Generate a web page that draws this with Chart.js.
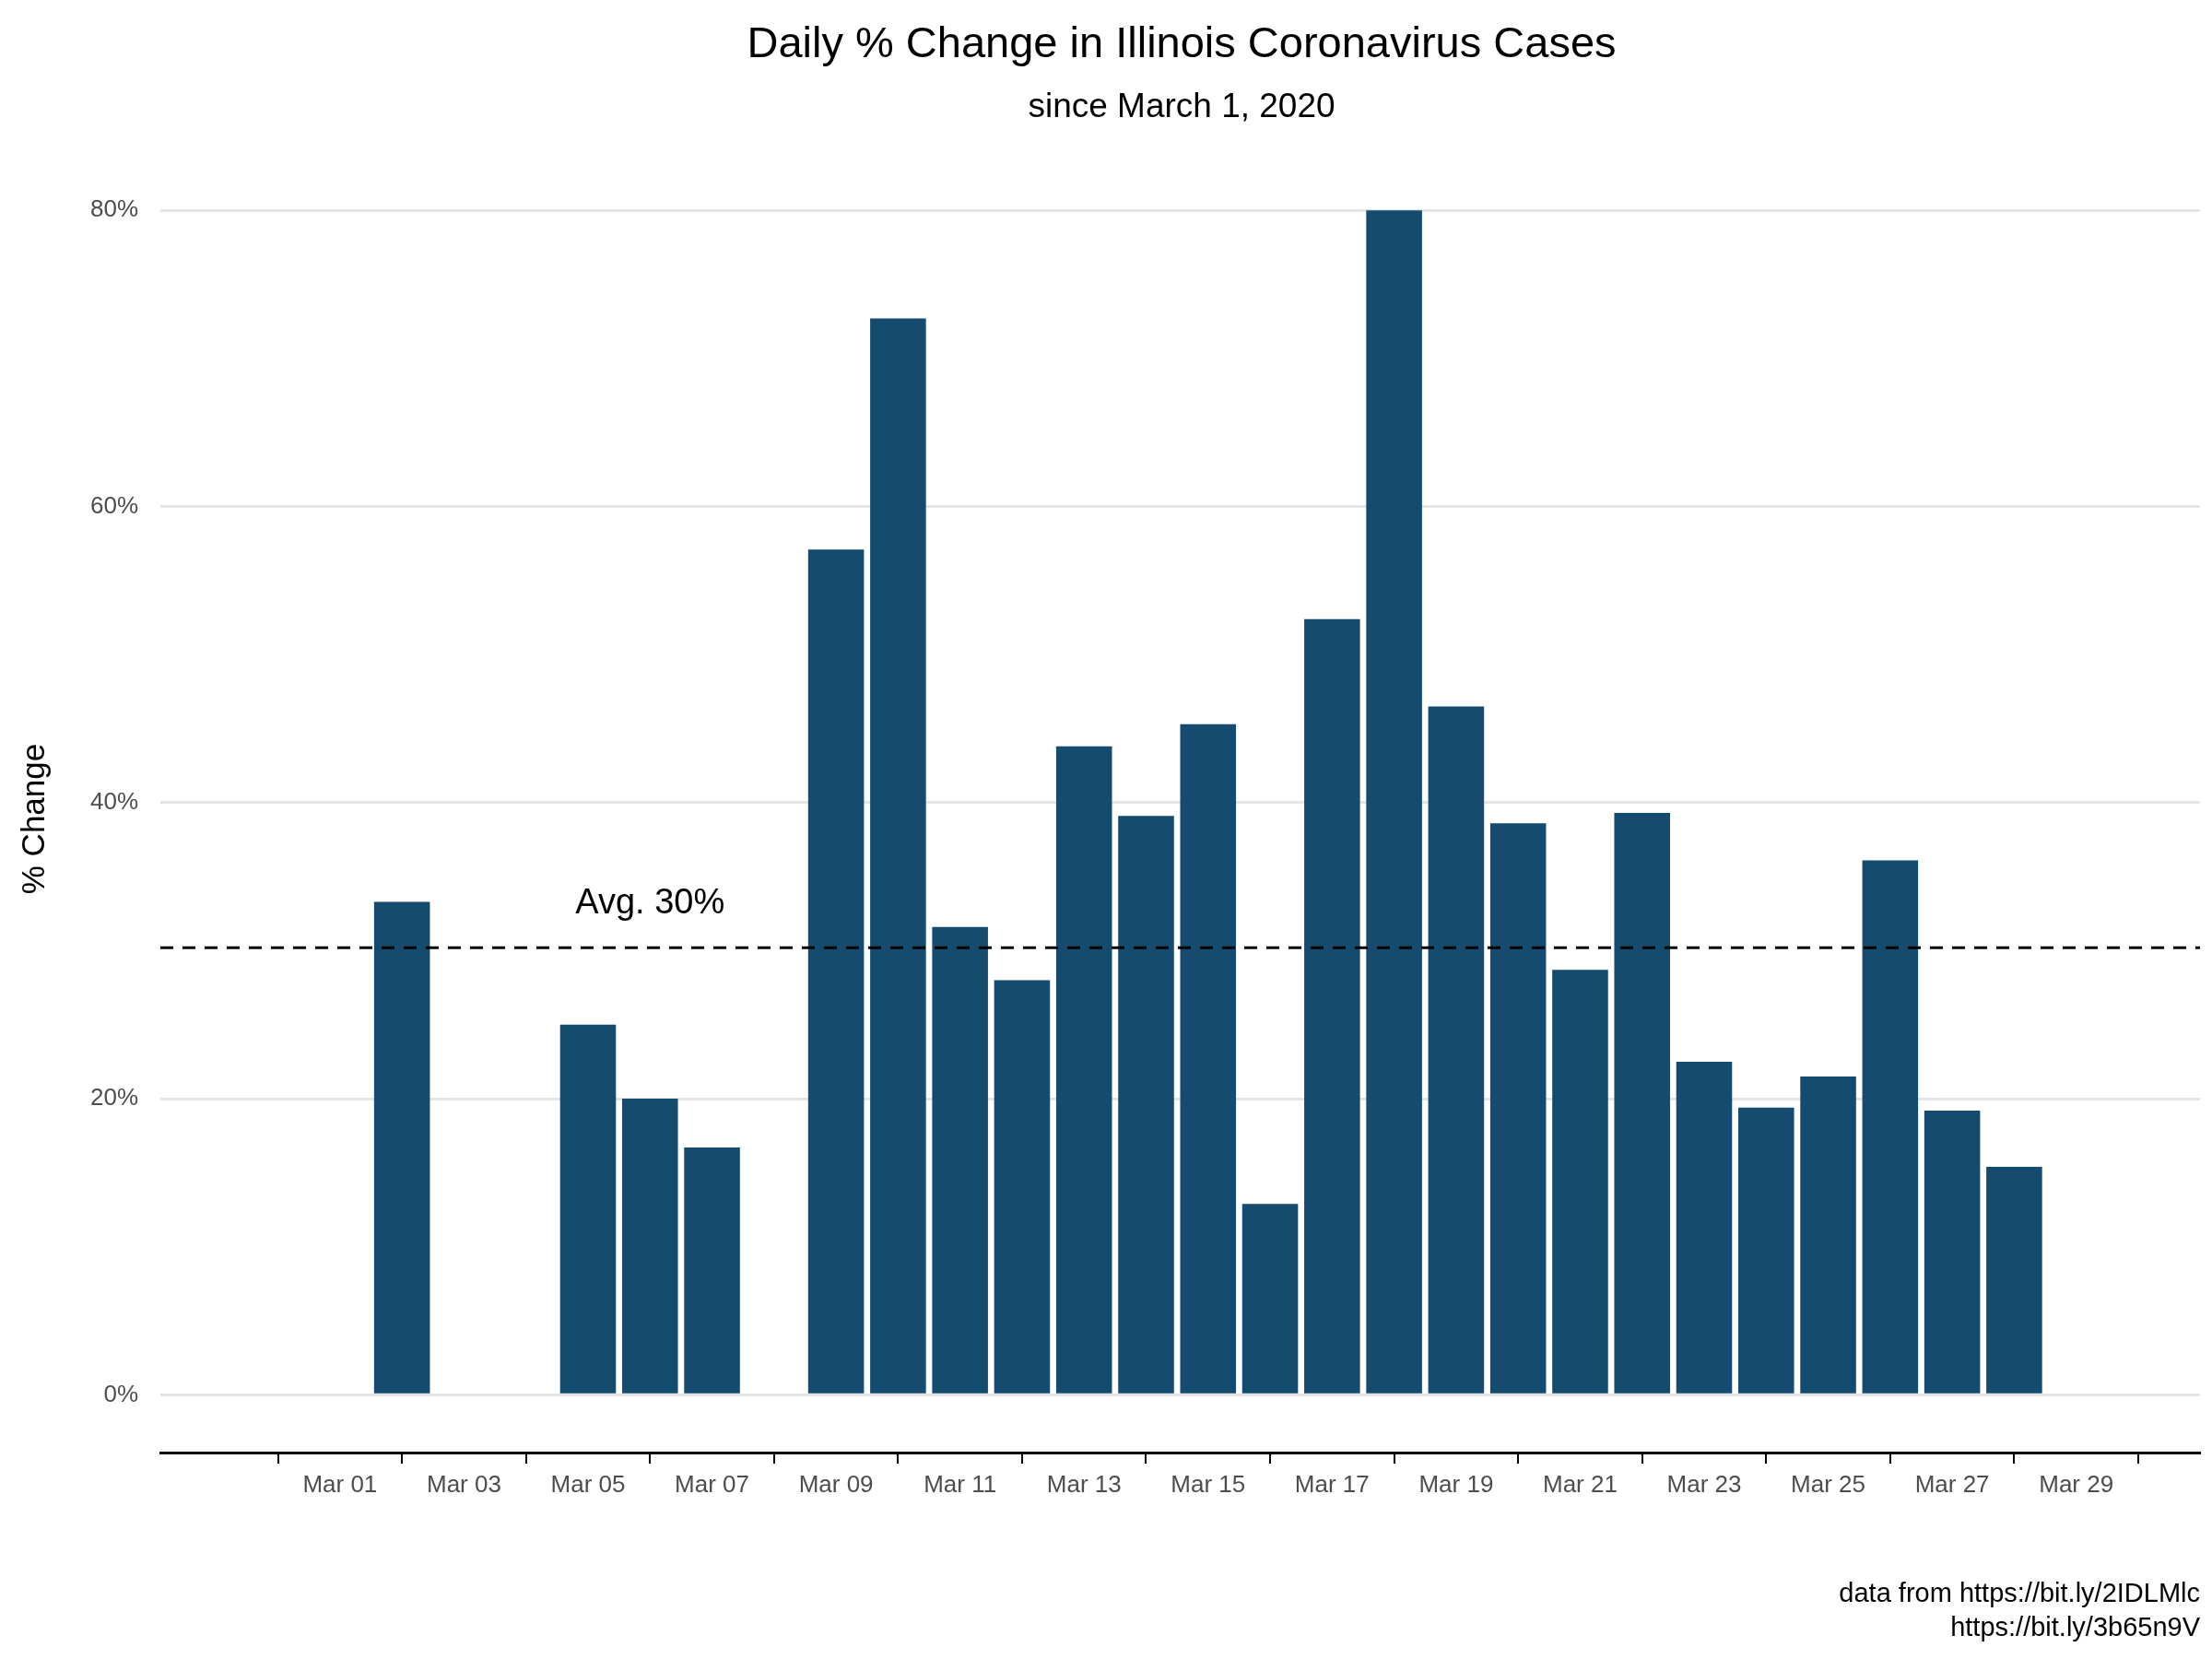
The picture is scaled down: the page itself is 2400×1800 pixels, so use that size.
<!DOCTYPE html>
<html>
<head>
<meta charset="utf-8">
<script src="https://cdn.jsdelivr.net/npm/chart.js@4"></script>
<style>
  html, body { margin: 0; padding: 0; background: #fff; }
  #wrap { width: 2400px; height: 1800px; }
</style>
</head>
<body>
<div id="wrap"><canvas id="chart" width="2400" height="1800"></canvas></div>
<script>
// day index 0 = Mar 01
let days = [0, 1, 2, 3, 4, 5, 6, 7, 8, 9, 10, 11, 12, 13, 14, 15, 16, 17, 18, 19, 20, 21, 22, 23, 24, 25, 26, 27];
let pctChange = [0, 33.3, 0, 0, 25.0, 20.0, 16.7, 0, 57.1, 72.7, 31.6, 28.0, 43.8, 39.1,
  45.3, 12.9, 52.4, 80.0, 46.5, 38.6, 28.7, 39.3, 22.5, 19.4, 21.5, 36.1, 19.2, 15.4];
let yTicks = [0, 20, 40, 60, 80];
let xTicks = [0, 2, 4, 6, 8, 10, 12, 14, 16, 18, 20, 22, 24, 26, 28];
let avgValue = 30.2;
let avgLabel = "Avg. 30%";

let fontName = "Liberation Sans, Arial, sans-serif";

let textPlugin = {
  id: 'texts',
  afterDraw(chart) {
    let c = chart.ctx;
    let xs = chart.scales.x, ys = chart.scales.y;
    c.save();
    // average line
    let yy = ys.getPixelForValue(avgValue);
    c.strokeStyle = '#000';
    c.lineWidth = 3;
    c.setLineDash([14, 10]);
    c.beginPath();
    c.moveTo(chart.chartArea.left, yy);
    c.lineTo(chart.chartArea.right, yy);
    c.stroke();
    c.setLineDash([]);
    c.fillStyle = '#000';
    c.font = '38px ' + fontName;
    c.textAlign = 'center';
    c.textBaseline = 'alphabetic';
    c.fillText(avgLabel, xs.getPixelForValue(5), ys.getPixelForValue(avgValue + 2.3));
    // titles
    c.font = '47px ' + fontName;
    c.fillText('Daily % Change in Illinois Coronavirus Cases', 1282, 62);
    c.font = '37px ' + fontName;
    c.fillText('since March 1, 2020', 1282, 127);
    // caption
    c.textAlign = 'right';
    c.font = '29px ' + fontName;
    c.fillText('data from https://bit.ly/2IDLMlc', 2387, 1738);
    c.fillText('https://bit.ly/3b65n9V', 2387, 1775);
    // y title
    c.translate(48, (chart.chartArea.top + chart.chartArea.bottom) / 2);
    c.rotate(-Math.PI / 2);
    c.textAlign = 'center';
    c.font = '35px ' + fontName;
    c.fillText('% Change', 0, 0);
    c.restore();
  }
};

new Chart(document.getElementById('chart'), {
  type: 'bar',
  data: {
    datasets: [{
      data: days.map((d, i) => ({ x: d, y: pctChange[i] || null })),
      backgroundColor: '#154b6e',
      barPercentage: 0.9,
      categoryPercentage: 1.0
    }]
  },
  options: {
    responsive: false,
    animation: false,
    layout: { padding: { top: 201, right: 13, left: 0, bottom: 0 } },
    plugins: { legend: { display: false }, tooltip: { enabled: false } },
    scales: {
      x: {
        type: 'linear',
        min: -1.8,
        max: 28.9,
        afterBuildTicks: s => { s.ticks = xTicks.map(v => ({ value: v })); },
        afterFit: s => { s.height = 224; },
        grid: { drawOnChartArea: false, color: '#000', lineWidth: 2, tickLength: 12 },
        border: { display: true, color: '#000', width: 3 },
        ticks: {
          color: '#4d4d4d',
          font: { size: 26, family: fontName },
          padding: 8,
          maxRotation: 0,
          autoSkip: false,
          callback: v => 'Mar ' + String(v + 1).padStart(2, '0')
        }
      },
      y: {
        min: -3.9,
        max: 81.7,
        afterBuildTicks: s => { s.ticks = yTicks.map(v => ({ value: v })); },
        afterFit: s => { s.width = 174; },
        grid: { color: '#e5e5e5', lineWidth: 3, drawTicks: false },
        border: { display: false },
        ticks: {
          color: '#4d4d4d',
          font: { size: 26, family: fontName },
          padding: 24,
          callback: v => v + '%'
        }
      }
    }
  },
  plugins: [textPlugin]
});
</script>
</body>
</html>
